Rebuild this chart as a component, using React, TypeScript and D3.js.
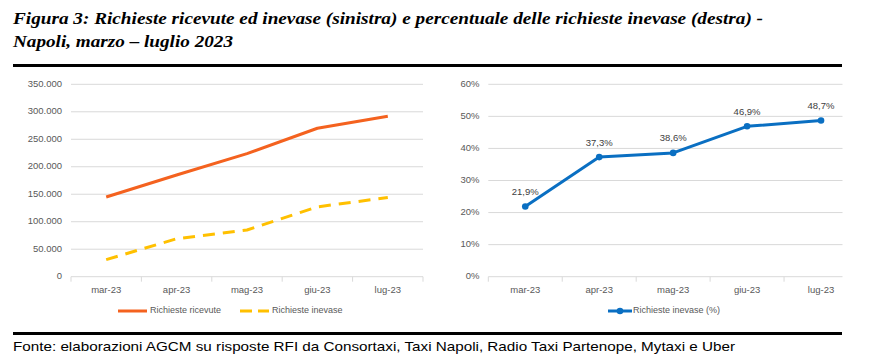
import React, { useRef, useEffect } from 'react';
import * as d3 from 'd3';

const MONTHS = ['mar-23', 'apr-23', 'mag-23', 'giu-23', 'lug-23'];
const RICEVUTE = [145000, 185000, 224000, 270000, 292000];
const INEVASE = [31000, 69000, 85000, 127000, 144000];
const INEVASE_PCT = [0.219, 0.373, 0.386, 0.469, 0.487];
const LEFT_TICKS = [0, 50000, 100000, 150000, 200000, 250000, 300000, 350000];
const RIGHT_TICKS = [0, 0.1, 0.2, 0.3, 0.4, 0.5, 0.6];

const TITLE_1 = 'Figura 3: Richieste ricevute ed inevase (sinistra) e percentuale delle richieste inevase (destra) -';
const TITLE_2 = 'Napoli, marzo \u2013 luglio 2023';
const SOURCE = 'Fonte: elaborazioni AGCM su risposte RFI da Consortaxi, Taxi Napoli, Radio Taxi Partenope, Mytaxi e Uber';

const itLocale = d3.formatLocale({ decimal: ',', thousands: '.', grouping: [3], currency: ['€', ''] });
const fmtThousands = itLocale.format(',.0f');
const fmtPctAxis = itLocale.format('.0%');
const fmtPctLabel = itLocale.format('.1%');

const FONT = '"Liberation Sans", Arial, sans-serif';
const GRID = '#d9d9d9';
const TXT = '#595959';
const ORANGE = '#f4621f';
const YELLOW = '#ffc000';
const BLUE = '#0a6fc2';

export default function App() {
  const svgRef = useRef<SVGSVGElement>(null);

  useEffect(() => {
    if (!svgRef.current) return;
    const svg = d3.select(svgRef.current);
    svg.selectAll('*').remove();

    // titolo
    svg.append('text').attr('x', 13).attr('y', 24).attr('font-family', '"Liberation Serif", "Times New Roman", serif')
      .attr('font-weight', 'bold').attr('font-style', 'italic').attr('font-size', '16px').attr('fill', '#000')
      .attr('textLength', 750).attr('lengthAdjust', 'spacingAndGlyphs').text(TITLE_1);
    svg.append('text').attr('x', 13).attr('y', 47).attr('font-family', '"Liberation Serif", "Times New Roman", serif')
      .attr('font-weight', 'bold').attr('font-style', 'italic').attr('font-size', '16px').attr('fill', '#000')
      .attr('textLength', 220).attr('lengthAdjust', 'spacingAndGlyphs').text(TITLE_2);

    // separatori
    svg.append('rect').attr('x', 13).attr('y', 64).attr('width', 829).attr('height', 3).attr('fill', '#000');
    svg.append('rect').attr('x', 13).attr('y', 332).attr('width', 829).attr('height', 3).attr('fill', '#000');

    svg.append('text').attr('x', 13).attr('y', 351).attr('font-family', FONT).attr('font-size', '13px').attr('fill', '#000')
      .attr('textLength', 722).attr('lengthAdjust', 'spacingAndGlyphs').text(SOURCE);

    const yTop = 84.3, yBottom = 276.7;

    // ---- grafico sinistro
    const xL = d3.scaleBand().domain(MONTHS).range([71, 423]).padding(0);
    const yL = d3.scaleLinear().domain([0, 350000]).range([yBottom, yTop]);
    const gL = svg.append('g');
    LEFT_TICKS.forEach((t) => {
      gL.append('line').attr('x1', 71).attr('x2', 423).attr('y1', yL(t)).attr('y2', yL(t)).attr('stroke', GRID).attr('stroke-width', 1);
      gL.append('text').attr('x', 62).attr('y', yL(t)).attr('text-anchor', 'end').attr('dominant-baseline', 'middle')
        .attr('font-family', FONT).attr('font-size', '9.5px').attr('fill', TXT).text(fmtThousands(t));
    });
    [...MONTHS.map((m) => xL(m)!), 423].forEach((x) => {
      gL.append('line').attr('x1', x).attr('x2', x).attr('y1', yBottom).attr('y2', yBottom + 5).attr('stroke', GRID);
    });
    MONTHS.forEach((m) => {
      gL.append('text').attr('x', xL(m)! + xL.bandwidth() / 2).attr('y', 290).attr('text-anchor', 'middle').attr('dominant-baseline', 'middle')
        .attr('font-family', FONT).attr('font-size', '9.5px').attr('fill', TXT).text(m);
    });
    const lineL = (vals: number[]) => d3.line<number>()
      .x((_, i) => xL(MONTHS[i])! + xL.bandwidth() / 2).y((d) => yL(d))(vals);
    gL.append('path').attr('d', lineL(INEVASE)).attr('fill', 'none').attr('stroke', YELLOW).attr('stroke-width', 3).attr('stroke-dasharray', '12,8').attr('stroke-linejoin', 'round');
    gL.append('path').attr('d', lineL(RICEVUTE)).attr('fill', 'none').attr('stroke', ORANGE).attr('stroke-width', 3).attr('stroke-linejoin', 'round');

    const legY = 311;
    gL.append('line').attr('x1', 118).attr('x2', 147).attr('y1', legY).attr('y2', legY).attr('stroke', ORANGE).attr('stroke-width', 3);
    gL.append('text').attr('x', 150).attr('y', legY).attr('dominant-baseline', 'middle').attr('font-family', FONT).attr('font-size', '9px').attr('fill', TXT).text('Richieste ricevute');
    gL.append('line').attr('x1', 240).attr('x2', 269).attr('y1', legY).attr('y2', legY).attr('stroke', YELLOW).attr('stroke-width', 3).attr('stroke-dasharray', '12,6');
    gL.append('text').attr('x', 272).attr('y', legY).attr('dominant-baseline', 'middle').attr('font-family', FONT).attr('font-size', '9px').attr('fill', TXT).text('Richieste inevase');

    // ---- grafico destro (ritagliato a destra)
    const rightEnd = 842.5;
    const xR = d3.scaleBand().domain(MONTHS).range([488.3, 858]).padding(0);
    const yR = d3.scaleLinear().domain([0, 0.6]).range([yBottom, yTop]);
    const gR = svg.append('g');
    RIGHT_TICKS.forEach((t) => {
      gR.append('line').attr('x1', 488.3).attr('x2', rightEnd).attr('y1', yR(t)).attr('y2', yR(t)).attr('stroke', GRID).attr('stroke-width', 1);
      gR.append('text').attr('x', 479.5).attr('y', yR(t)).attr('text-anchor', 'end').attr('dominant-baseline', 'middle')
        .attr('font-family', FONT).attr('font-size', '9.5px').attr('fill', TXT).text(fmtPctAxis(t));
    });
    MONTHS.map((m) => xR(m)!).forEach((x) => {
      gR.append('line').attr('x1', x).attr('x2', x).attr('y1', yBottom).attr('y2', yBottom + 5).attr('stroke', GRID);
    });
    const cx = (i: number) => xR(MONTHS[i])! + xR.bandwidth() / 2;
    MONTHS.forEach((m, i) => {
      gR.append('text').attr('x', cx(i)).attr('y', 290).attr('text-anchor', 'middle').attr('dominant-baseline', 'middle')
        .attr('font-family', FONT).attr('font-size', '9.5px').attr('fill', TXT).text(m);
    });
    const lineR = d3.line<number>().x((_, i) => cx(i)).y((d) => yR(d));
    gR.append('path').attr('d', lineR(INEVASE_PCT)).attr('fill', 'none').attr('stroke', BLUE).attr('stroke-width', 3).attr('stroke-linejoin', 'round');
    INEVASE_PCT.forEach((v, i) => {
      gR.append('circle').attr('cx', cx(i)).attr('cy', yR(v)).attr('r', 3.3).attr('fill', BLUE);
      gR.append('text').attr('x', cx(i)).attr('y', yR(v) - 14).attr('text-anchor', 'middle').attr('dominant-baseline', 'middle')
        .attr('font-family', FONT).attr('font-size', '9.5px').attr('fill', '#404040').text(fmtPctLabel(v));
    });
    gR.append('line').attr('x1', 608).attr('x2', 632).attr('y1', legY).attr('y2', legY).attr('stroke', BLUE).attr('stroke-width', 3);
    gR.append('circle').attr('cx', 620).attr('cy', legY).attr('r', 3.3).attr('fill', BLUE);
    gR.append('text').attr('x', 633).attr('y', legY).attr('dominant-baseline', 'middle').attr('font-family', FONT).attr('font-size', '9px').attr('fill', TXT).text('Richieste inevase (%)');
  }, []);

  return (
    <svg ref={svgRef} width={875} height={363} style={{ position: 'absolute', left: 0, top: 0, background: '#fff' }} />
  );
}
